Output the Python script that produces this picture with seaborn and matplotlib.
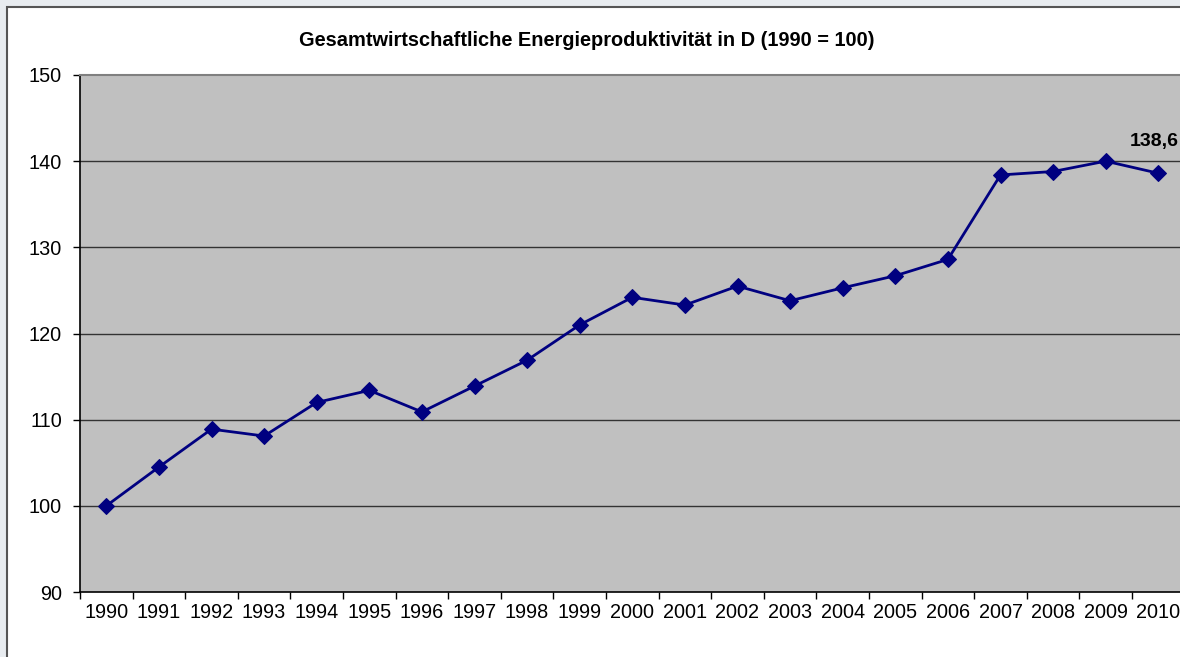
import matplotlib
matplotlib.use("Agg")
import matplotlib.pyplot as plt
from matplotlib.patches import Rectangle
from matplotlib.ticker import FixedLocator, NullFormatter
import seaborn as sns
import pandas as pd

# Data
years = [str(y) for y in range(1990, 2011)]
index_values = [100.0, 104.5, 108.9, 108.1, 112.0, 113.4, 110.9, 113.9, 116.9,
                121.0, 124.2, 123.3, 125.5, 123.8, 125.3, 126.7, 128.6, 138.4,
                138.8, 140.0, 138.6]
y_ticks = [90, 100, 110, 120, 130, 140, 150]
title = "Gesamtwirtschaftliche Energieproduktivität in D (1990 = 100)"
last_label = "138,6"

sns.set_style("white")
plt.rcParams['font.family'] = ['Liberation Sans', 'DejaVu Sans']
plt.rcParams['text.color'] = 'black'
plt.rcParams['xtick.color'] = 'black'
plt.rcParams['ytick.color'] = 'black'

df = pd.DataFrame({"pos": range(len(years)), "year": years, "value": index_values})

W, H = 1180, 657
fig = plt.figure(figsize=(W / 100, H / 100), dpi=100, facecolor='#e8ecf0')

# white chart frame (runs past right and bottom edges)
frame = Rectangle((7 / W, -0.05), 1.1, 1 - 7 / H + 0.05, transform=fig.transFigure,
                  facecolor='white', edgecolor='#555555', linewidth=1.5, zorder=-10)
fig.add_artist(frame)

left, right = 80 / W, (80 + 21 * 52.6) / W
bottom, top = 1 - 592 / H, 1 - 75 / H
ax = fig.add_axes([left, bottom, right - left, top - bottom])
ax.set_zorder(5)
ax.set_facecolor('#c0c0c0')

sns.lineplot(data=df, x="pos", y="value", ax=ax, color='#000080', linewidth=2,
             marker='D', markersize=8, markeredgecolor='#000080', zorder=3)

ax.set_xlim(-0.5, len(years) - 0.5)
ax.set_ylim(90, 150)
ax.set_yticks(y_ticks)
ax.set_yticklabels([str(t) for t in y_ticks], fontsize=14.3)
ax.set_xticks(range(len(years)))
ax.set_xticklabels(years, fontsize=14.3)
ax.tick_params(axis='x', which='major', length=0, pad=8)
ax.xaxis.set_minor_locator(FixedLocator([i - 0.5 for i in range(len(years) + 1)]))
ax.xaxis.set_minor_formatter(NullFormatter())
ax.tick_params(axis='x', which='minor', length=5, width=1, color='black', direction='out', bottom=True)
ax.tick_params(axis='y', length=5, width=1, color='black', direction='out', left=True, pad=8)
ax.set_xlabel("")
ax.set_ylabel("")

for t in y_ticks[1:-1]:
    ax.axhline(t, color='#333333', linewidth=1, zorder=1)

for side in ['left', 'bottom']:
    ax.spines[side].set_color('black')
    ax.spines[side].set_linewidth(1.2)
ax.spines['top'].set_color('#808080')
ax.spines['top'].set_linewidth(1.5)
ax.spines['right'].set_visible(False)

ax.annotate(last_label, xy=(df["pos"].iloc[-1], df["value"].iloc[-1]), xytext=(-3, 17),
            textcoords='offset points', ha='center', va='bottom', fontsize=14,
            fontweight='bold', annotation_clip=False)

fig.text(587 / W, 1 - 40 / H, title, ha='center', va='center', fontsize=14.4,
         fontweight='bold')

fig.savefig("out.png", dpi=100, facecolor=fig.get_facecolor())
